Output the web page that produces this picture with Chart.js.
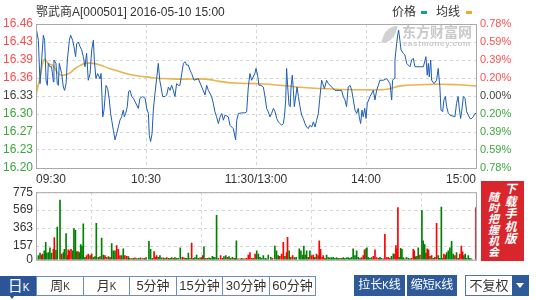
<!DOCTYPE html>
<html>
<head>
<meta charset="utf-8">
<script src="https://cdn.jsdelivr.net/npm/chart.js@4/dist/chart.umd.min.js"></script>
<style>
body{margin:0;width:536px;height:300px;background:#fff;position:relative;overflow:hidden;font-family:"Liberation Sans",Arial,"Noto Sans CJK SC",sans-serif;color:#333}
canvas{position:absolute;left:0}
#price{top:0}
#vol{top:182px}
.abs{position:absolute;white-space:nowrap}
#title{left:36px;top:5px;font-size:12px;line-height:14px;color:#333}
.leg{top:5px;font-size:12px;line-height:14px;color:#333}
.swatch{top:11px;width:6px;height:3px}
.wm{color:#c9c9c9;font-weight:bold;z-index:2}
#banner{left:481px;top:181px;width:43px;height:80px;background:#d9262d}
.col{position:absolute;width:13px;color:#fff;font-weight:bold;font-style:italic;white-space:normal;word-break:break-all;text-align:center}
.tab{position:absolute;top:276px;height:20px;box-sizing:border-box;border:1px solid #6d8cc2;background:#fff;font-size:13px;line-height:18px;text-align:center;color:#333}
.btn{position:absolute;top:275px;height:21px;background:#2f5a9a;color:#fff;font-size:12px;line-height:21px;text-align:center}
</style>
</head>
<body>
<canvas id="price" width="536" height="188"></canvas>
<canvas id="vol" width="536" height="88"></canvas>

<div id="title" class="abs">鄂武商A[000501] 2016-05-10 15:00</div>
<div class="abs leg" style="left:392px">价格</div>
<div class="abs swatch" style="left:421px;background:#1b9c93"></div>
<div class="abs leg" style="left:436px">均线</div>
<div class="abs swatch" style="left:466px;background:#e9ad2f"></div>

<div class="abs wm" style="left:384px;top:26px;width:11px;height:17px;border-radius:11px 2px 11px 2px;background:#d2d2d2;transform:skewX(-20deg)"></div>
<div class="abs wm" style="left:402px;top:24px;font-size:14px;line-height:16px">东方财富网</div>
<div class="abs wm" style="left:403px;top:39px;font-size:8px;line-height:9px;letter-spacing:0.6px">eastmoney.com</div>

<div id="banner" class="abs">
  <div class="col" style="left:23px;top:2px;font-size:12px;line-height:12.5px">下载手机版</div>
  <div class="col" style="left:6px;top:11px;font-size:11px;line-height:11px">随时把握机会</div>
</div>

<div class="tab" style="left:0;width:37px;background:#2b5596;border-color:#2b5596;color:#fff"><span style="font-size:15px">日</span><span style="font-size:10px">K</span></div>
<div class="abs" style="left:9px;top:295px;width:0;height:0;border-left:3px solid transparent;border-right:3px solid transparent;border-top:4px solid #2b5596"></div>
<div class="tab" style="left:36px;width:48px">周<span style="font-size:10px">K</span></div>
<div class="tab" style="left:83px;width:47px">月<span style="font-size:10px">K</span></div>
<div class="tab" style="left:129px;width:48px">5分钟</div>
<div class="tab" style="left:176px;width:47px">15分钟</div>
<div class="tab" style="left:222px;width:48px">30分钟</div>
<div class="tab" style="left:269px;width:47px">60分钟</div>

<div class="btn" style="left:354px;width:51px">拉长<span style="font-size:10px">K</span>线</div>
<div class="btn" style="left:407px;width:50px">缩短<span style="font-size:10px">K</span>线</div>
<div class="tab" style="left:465px;top:275px;height:21px;width:48px;border-color:#4f74b0;line-height:19px">不复权</div>
<div class="btn" style="left:512px;width:17px"><div style="position:absolute;left:4px;top:8px;border-left:4.5px solid transparent;border-right:4.5px solid transparent;border-top:5px solid #fff"></div></div>

<script>
"use strict";
const RED   = "#ff4d4d";
const GREEN = "#3da63d";
const GRAY  = "#444";

// 时间轴（分钟，自 09:30 起，午休压缩）
const timeTicks  = [0, 60, 120, 180, 240];
const timeLabels = ["09:30", "10:30", "11:30/13:00", "14:00", "15:00"];

// 价格轴
const prevClose  = 16.33;
const priceTicks = [16.202, 16.234, 16.266, 16.298, 16.33, 16.362, 16.394, 16.426, 16.458];
const pctLabels  = ["0.78%", "0.59%", "0.39%", "0.20%", "0.00%", "0.20%", "0.39%", "0.59%", "0.78%"];

// 分时价格
const priceT = [
  0,1.3,2.2,3.1,4,4.7,5.5,6.2,6.7,7.6,
  8.5,9.5,9.8,10.9,11.6,12.2,12.7,14,14.9,15.6,
  16.4,17.1,18.2,18.9,20,20.7,21.6,22.2,23.1,24,
  24.9,25.8,26.7,27.6,28.5,29.5,30.4,31.3,31.8,32.7,
  33.6,34.4,34.9,35.5,36.4,37.1,38.2,39.1,40,40.7,
  41.3,42.2,43.1,44,44.9,45.8,46.7,47.6,48.2,48.9,
  49.8,50.5,51.3,52.2,53.1,54,54.9,55.8,56.7,58.2,
  59.5,60.4,61.3,61.8,62.5,63.3,64,64.9,65.8,66.7,
  67.5,68.2,69.1,70.4,71.3,72.2,73.1,74,74.9,75.8,
  76.7,77.6,78.5,79.5,80.4,81.3,82.2,83.1,84,84.9,
  86.2,88.5,90.4,92.2,93.1,94,95.8,96.7,97.6,98.5,
  99.5,100.4,101.3,102.2,103.1,104.9,105.8,107.6,108.9,109.5,
  110.4,112.2,114,114.9,115.8,116.7,117.6,119.4,120,120.9,
  121.6,122.7,124,124.9,125.8,126.7,127.6,128.5,129.5,130.4,
  131.3,132.2,133.1,134,134.9,135.5,136.2,136.7,137.3,138,
  138.7,139.1,139.8,140.4,140.9,142.4,143.1,144,144.9,145.8,
  146.7,147.6,148.5,149.4,150.4,151.3,152.2,153.1,154,154.9,
  155.8,156.4,157.3,158.5,159.5,161.3,163.1,166.7,167.6,168.5,
  169.4,170.3,171.3,172.2,173.1,174,174.9,175.8,176.3,177.1,
  177.8,178.5,179.3,180,180.7,182.2,184,184.9,185.8,187.6,
  189.4,191.3,193.1,194,194.5,195.3,195.8,196.7,197.4,197.8,
  198.5,199.1,200.3,201.2,202.2,203.1,204,204.9,205.8,206.7,
  211.3,212.7,213.4,214,214.5,215.3,215.8,217.1,218.5,219.4,
  220.3,220.9,221.8,222.5,223.3,224,224.9,225.8,228.5,229.4,
  230.2,230.9,231.6,232.3,233.1,234,234.9,235.8,236.7,237.6,
  238.5,239.4,240
];
const price = [
  16.452,16.429,16.352,16.394,16.438,16.429,16.358,16.349,16.388,16.382,
  16.382,16.355,16.394,16.388,16.352,16.349,16.388,16.370,16.346,16.340,
  16.352,16.394,16.429,16.438,16.429,16.418,16.400,16.423,16.426,16.418,
  16.412,16.400,16.382,16.406,16.358,16.370,16.412,16.429,16.394,16.361,
  16.370,16.364,16.361,16.370,16.293,16.305,16.349,16.343,16.323,16.299,
  16.287,16.269,16.252,16.263,16.275,16.287,16.293,16.305,16.293,16.299,
  16.311,16.338,16.340,16.329,16.326,16.320,16.314,16.308,16.326,16.329,
  16.326,16.308,16.299,16.260,16.249,16.263,16.305,16.335,16.361,16.388,
  16.358,16.346,16.329,16.329,16.332,16.346,16.340,16.349,16.340,16.329,
  16.352,16.349,16.349,16.370,16.388,16.391,16.385,16.385,16.376,16.370,
  16.358,16.361,16.346,16.332,16.349,16.340,16.329,16.317,16.302,16.293,
  16.281,16.293,16.299,16.287,16.296,16.293,16.278,16.272,16.252,16.287,
  16.299,16.300,16.300,16.302,16.346,16.370,16.358,16.370,16.379,16.367,
  16.349,16.349,16.346,16.329,16.308,16.302,16.293,16.299,16.308,16.302,
  16.290,16.284,16.281,16.278,16.281,16.293,16.323,16.379,16.346,16.314,
  16.311,16.346,16.367,16.340,16.311,16.346,16.329,16.311,16.296,16.290,
  16.281,16.275,16.272,16.278,16.275,16.284,16.275,16.287,16.299,16.329,
  16.358,16.352,16.343,16.358,16.352,16.346,16.340,16.340,16.329,16.323,
  16.311,16.346,16.349,16.340,16.323,16.305,16.299,16.308,16.293,16.281,
  16.305,16.293,16.308,16.290,16.317,16.329,16.340,16.323,16.340,16.358,
  16.358,16.361,16.352,16.323,16.358,16.361,16.394,16.423,16.441,16.447,
  16.429,16.412,16.406,16.403,16.388,16.385,16.382,16.394,16.397,16.382,
  16.382,16.400,16.367,16.388,16.364,16.394,16.358,16.352,16.358,16.379,
  16.346,16.305,16.302,16.323,16.329,16.311,16.299,16.296,16.293,16.317,
  16.329,16.308,16.290,16.305,16.329,16.326,16.302,16.296,16.290,16.290,
  16.293,16.299,16.299
];

// 均价线
const avgT = [0,2,4.5,7,9,11,13,15,18,21,24,27,31,35,40,45,50,55,60,68,80,93,100,108,120,127,146,164,180,188,193,199,210,219,230,240];
const avg  = [16.332,16.360,16.395,16.387,16.385,16.375,16.368,16.367,16.370,16.378,16.384,16.388,16.388,16.385,16.379,16.374,16.369,16.366,16.364,16.361,16.360,16.360,16.356,16.353,16.352,16.351,16.345,16.342,16.341,16.341,16.343,16.348,16.350,16.351,16.350,16.348];

// 成交量（1 = 红, 0 = 绿）
const volTicks = [0, 157, 363, 569, 775];
const volT = [
  0,1.3,2.2,3.1,3.6,4.5,5.3,5.8,6.7,7.6,
  8.5,9.5,10,10.9,11.6,13.1,14,14.9,15.5,16.4,
  17.1,17.6,18.2,19.1,20,20.7,21.5,22.2,22.9,23.6,
  24.4,25.1,25.8,26.7,27.6,28.5,29.5,30.4,31.3,32.2,
  32.9,34,34.9,35.8,36.7,37.6,38.5,39.5,40.4,41.3,
  42.2,43.1,44,44.9,45.8,46.7,47.6,48.5,49.5,50.4,
  51,52,53,54,55,56,57,58,59,60,
  61.6,62.5,63.5,64.4,65.1,65.8,66.7,67.6,68.5,69.5,
  70.4,71.3,72.2,73.1,74,74.9,75.8,76.7,77.6,78.7,
  79.8,80.7,81.5,82.2,83.1,84,84.9,85.8,86.7,87.6,
  88.5,89.5,90.4,90.9,91.6,92.5,93.5,94.4,95.3,96.2,
  96.9,97.6,98.5,99.5,100.7,101.6,102.5,103.5,104.4,105.3,
  106.2,107.1,108,108.7,109.3,110.2,111.3,112.2,113.1,114,
  114.9,115.8,116.7,117.6,118.5,119.5,120.4,121.3,122.2,123.1,
  124,125,125.8,126.7,128.1,129,130.3,131.2,132.1,133,
  134,134.9,135.8,136.7,137.2,138.1,139,140,141,141.9,
  143.6,144.5,145.4,146.1,146.8,147.6,148.5,149.4,150.3,151.2,
  152.1,153,153.9,154.5,155.2,156.1,156.7,157.6,158.5,159.4,
  160.3,161.2,162.1,163,163.9,164.8,165.8,166.7,167.6,168.5,
  169.4,170.3,171.2,172.1,173,174,174.9,175.8,176.7,177.6,
  178.5,179.2,180,180.5,181.2,182.1,183,184,184.9,185.8,
  186.7,187.6,188.5,189.4,190.3,191.2,192.1,193,193.9,194.9,
  195.8,196.3,196.9,197.4,198.2,198.9,199.6,200.3,201.2,202.1,
  203.1,204,204.9,205.8,206.3,207,207.8,208.5,209.4,210.5,
  211.2,212,212.7,213.4,214.1,214.9,215.8,216.7,217.6,218.5,
  219.4,220.3,221.1,221.8,222.5,223.2,224,224.9,225.8,226.7,
  227.6,228.5,229.4,230.3,231.2,232,232.7,233.4,234.1,234.9,
  235.8,236.7,237.6,240
];
const vol = [
  36,47,76,55,66,102,200,76,84,138,
  76,120,255,109,375,684,66,84,120,302,
  47,113,102,120,102,357,339,91,95,84,
  175,157,411,29,47,66,47,66,29,36,
  419,29,36,248,55,47,29,36,29,186,
  102,102,164,120,47,47,127,47,40,36,
  18,15,18,22,15,18,22,15,18,25,
  211,120,18,95,29,47,29,47,22,22,
  18,25,18,18,25,18,25,18,18,138,
  29,22,18,18,76,18,193,18,25,55,
  18,22,25,47,149,18,18,22,18,40,
  29,25,510,18,47,18,36,47,29,36,
  18,29,18,18,218,11,11,18,11,11,
  18,55,84,18,18,66,102,66,29,18,
  47,18,11,55,29,18,157,102,47,40,
  66,200,40,84,258,102,29,47,25,29,
  127,102,55,157,55,102,29,102,47,55,
  29,66,47,218,120,29,47,18,55,25,
  22,25,29,18,25,18,18,18,25,18,
  22,25,18,29,127,47,102,29,18,25,
  47,113,127,138,29,18,25,40,113,25,
  18,29,18,11,291,25,29,18,40,69,
  66,164,127,600,29,131,120,25,11,29,
  18,11,18,120,102,36,40,138,55,564,
  218,175,76,127,113,40,47,18,29,419,
  47,18,604,18,66,55,84,102,138,211,
  66,47,84,18,66,157,91,47,66,18,
  47,18,11,600
];
const volUp = [
  0,0,0,1,1,0,0,0,0,0,
  0,1,1,0,0,0,1,0,0,0,
  1,1,1,1,0,0,0,0,1,0,
  0,0,0,0,1,1,0,1,0,0,
  0,0,1,0,0,1,1,0,1,0,
  0,0,1,1,1,0,0,1,1,0,
  0,1,0,1,0,0,1,0,1,0,
  0,0,0,1,1,1,0,0,0,1,
  0,1,0,0,0,1,0,0,0,0,
  1,1,0,0,0,0,1,0,0,0,
  0,1,0,1,0,0,1,0,0,0,
  0,0,0,0,1,1,0,0,1,0,
  0,0,1,0,0,1,1,0,0,1,
  1,1,1,1,0,1,0,0,0,0,
  0,0,0,0,0,1,0,0,0,1,
  1,1,0,1,1,0,1,1,0,0,
  0,0,0,0,0,0,1,0,1,1,
  0,1,0,1,1,1,1,0,0,0,
  0,0,0,0,0,0,0,1,0,0,
  0,0,0,0,0,0,0,0,0,1,
  1,1,0,0,0,0,0,1,1,1,
  1,0,0,1,1,1,1,1,0,0,
  1,1,1,1,0,0,0,0,0,0,
  0,0,1,1,1,0,0,0,1,0,
  0,0,0,1,1,0,1,0,1,1,
  0,0,0,0,1,1,0,0,0,0,
  0,1,0,1,1,1,1,0,0,0,
  0,0,0,1
];

const FONT = { family: "Liberation Sans", size: 12 };

const frame = {
  id: "frame",
  afterDraw(chart) {
    const { ctx, chartArea: a } = chart;
    ctx.save();
    ctx.strokeStyle = "#a9a9a9";
    ctx.lineWidth = 1;
    ctx.strokeRect(a.left + 0.5, a.top + 0.5, a.right - a.left, a.bottom - a.top);
    ctx.restore();
  }
};

const priceColor = c => c.tick.value > prevClose + 0.001 ? RED : (c.tick.value < prevClose - 0.001 ? GREEN : GRAY);
const gridDash = { display: false, dash: [3, 3] };

const timeAxis = showLabels => ({
  type: "linear", min: 0, max: 240, offset: false,
  afterBuildTicks: s => { s.ticks = timeTicks.map(v => ({ value: v })); },
  afterFit: s => { s.height = showLabels ? 20 : 0; },
  grid: { color: "#d6d6d6", drawTicks: false },
  border: gridDash,
  ticks: { display: showLabels, align: "inner", maxRotation: 0, autoSkip: false, padding: 4, color: "#333", font: FONT,
           callback: (v, i) => timeLabels[i] }
});

new Chart(document.getElementById("price"), {
  type: "line",
  data: {
    datasets: [
      { label: "价格", data: priceT.map((t, i) => ({ x: t, y: price[i] })),
        borderColor: "#1d5db3", borderWidth: 1, pointRadius: 0, tension: 0, yAxisID: "y" },
      { label: "均线", data: avgT.map((t, i) => ({ x: t, y: avg[i] })),
        borderColor: "#e9b44a", borderWidth: 1.6, pointRadius: 0, tension: 0.4, yAxisID: "y" }
    ]
  },
  options: {
    responsive: false, animation: false, events: [],
    layout: { padding: { top: 24, left: 0, right: 0, bottom: 0 } },
    plugins: { legend: { display: false }, tooltip: { enabled: false } },
    scales: {
      x: timeAxis(true),
      y: {
        position: "left", min: priceTicks[0], max: priceTicks[priceTicks.length - 1],
        afterBuildTicks: s => { s.ticks = priceTicks.map(v => ({ value: v })); },
        afterFit: s => { s.width = 36; },
        grid: { color: "#d6d6d6", drawTicks: false },
        border: gridDash,
        ticks: { autoSkip: false, padding: 3, font: FONT, color: priceColor, callback: v => v.toFixed(2) }
      },
      y2: {
        position: "right", min: priceTicks[0], max: priceTicks[priceTicks.length - 1],
        afterBuildTicks: s => { s.ticks = priceTicks.map(v => ({ value: v })); },
        afterFit: s => { s.width = 60; },
        grid: { display: false, drawTicks: false },
        border: { display: false },
        ticks: { autoSkip: false, padding: 4, font: { family: "Liberation Sans", size: 11 }, color: priceColor,
                 callback: (v, i) => pctLabels[i] }
      }
    }
  },
  plugins: [frame]
});

new Chart(document.getElementById("vol"), {
  type: "bar",
  data: {
    datasets: [{
      label: "成交量",
      data: volT.map((t, i) => ({ x: t, y: vol[i] })),
      backgroundColor: volUp.map(u => u ? "#ff0000" : "#008000"),
      barThickness: 1
    }]
  },
  options: {
    responsive: false, animation: false, events: [],
    layout: { padding: { top: 8, left: 0, right: 60, bottom: 9 } },
    plugins: { legend: { display: false }, tooltip: { enabled: false } },
    scales: {
      x: timeAxis(false),
      y: {
        min: 0, max: volTicks[volTicks.length - 1],
        afterBuildTicks: s => { s.ticks = volTicks.map(v => ({ value: v })); },
        afterFit: s => { s.width = 36; },
        grid: { color: "#d6d6d6", drawTicks: false },
        border: gridDash,
        ticks: { autoSkip: false, padding: 3, font: FONT, color: "#333", callback: v => String(v) }
      }
    }
  },
  plugins: [frame]
});
</script>
</body>
</html>
